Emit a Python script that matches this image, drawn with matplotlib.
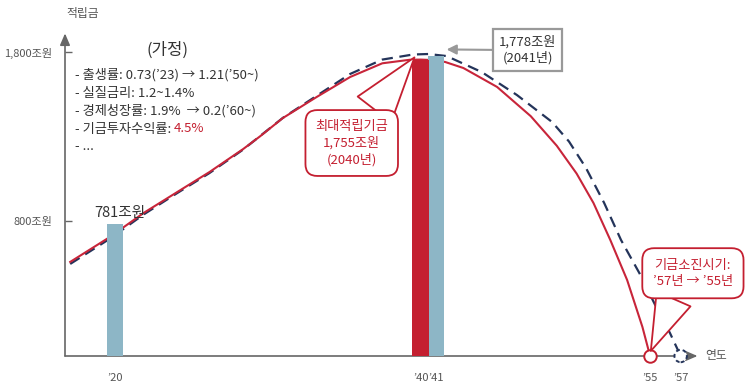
import matplotlib.pyplot as plt

plt.rcParams['font.family'] = ['Noto Sans CJK KR', 'DejaVu Sans']

# 기금 적립금 (조원) - 개혁안(실선) / 기존 전망(점선)
red_years = [2017.1, 2019.7, 2021.9, 2024.1, 2026.2, 2028.4, 2029.5, 2031.0,
             2033.2, 2035.4, 2037.5, 2039.3, 2040.0, 2040.8, 2041.6, 2042.8,
             2045.0, 2047.2, 2048.9, 2050.2, 2051.3, 2052.4, 2053.5, 2054.5,
             2055.0]
red_fund = [557, 705, 847, 971, 1089, 1225, 1300, 1409,
            1533, 1652, 1733, 1754, 1755, 1752, 1741, 1705,
            1593, 1420, 1245, 1080, 906, 687, 450, 172,
            0]

base_years = [2017.1, 2019.7, 2021.9, 2024.1, 2026.2, 2028.4, 2031.0, 2033.2,
              2035.4, 2037.5, 2039.5, 2040.5, 2041.7, 2044.0, 2046.3, 2048.6,
              2049.7, 2050.8, 2052.0, 2053.1, 2054.3, 2055.4, 2056.3, 2057.0]
base_fund = [545, 695, 838, 965, 1083, 1222, 1410, 1540,
             1670, 1755, 1785, 1788, 1776, 1681, 1545, 1385,
             1270, 1115, 906, 687, 491, 290, 136, 0]

bar_years_blue = [2020, 2041]
bar_vals_blue = [781, 1778]
bar_year_red = 2040
bar_val_red = 1755

ytick_vals = [800, 1800]
ytick_labels = ['800조원', '1,800조원']
xtick_vals = [2020, 2040, 2041, 2055, 2057]
xtick_labels = ['’20', '’40', '’41', '’55', '’57']

assumptions = ['- 출생률: 0.73(’23) → 1.21(’50~)',
               '- 실질금리: 1.2~1.4%',
               '- 경제성장률: 1.9%  → 0.2(’60~)',
               '- 기금투자수익률:',
               '- ...']

RED = '#c41f30'
RED_LINE = '#c8253a'
BLUE = '#8db6c6'
NAVY = '#24345a'
GRAY = '#666666'
TXT = '#333333'

W, H = 748, 384
fig = plt.figure(figsize=(W / 100, H / 100), dpi=100)
ax = fig.add_axes([65 / W, 1 - 356 / H, 683 / W, 336 / H])
x0 = 2016.76
ax.set_xlim(x0, x0 + 683 / 15.3)
ax.set_ylim(0, 336 / 0.1689)
for s in ax.spines.values():
    s.set_visible(False)

# axes with arrows
arr = dict(arrowstyle='-|>,head_length=0.7,head_width=0.3', color=GRAY, lw=1.2,
           shrinkA=0, shrinkB=0)
ax.annotate('', xy=(2058.1, 0), xytext=(x0, 0), arrowprops=arr, annotation_clip=False)
ax.annotate('', xy=(x0, 1910), xytext=(x0, 0), arrowprops=arr, annotation_clip=False)

ax.set_yticks(ytick_vals, ytick_labels)
ax.tick_params(axis='y', direction='in', length=5, width=1, color=GRAY, pad=9,
               labelsize=8, labelcolor='#555555')
ax.set_xticks(xtick_vals, xtick_labels)
ax.tick_params(axis='x', length=0, pad=12, labelsize=8, labelcolor='#555555')

# lines
ax.plot(base_years, base_fund, color=NAVY, lw=1.6, ls=(0, (5, 3)), zorder=2)
ax.plot(red_years, red_fund, color=RED_LINE, lw=1.5, zorder=2.5)

# bars
ax.bar(bar_years_blue, bar_vals_blue, width=1.05, color=BLUE, zorder=3)
ax.bar([bar_year_red], [bar_val_red], width=1.1, color=RED, zorder=3)

ax.annotate('781조원', xy=(bar_years_blue[0], bar_vals_blue[0]), xytext=(4, 3),
            textcoords='offset points', ha='center', va='bottom', fontsize=10.5,
            color=TXT)

# depletion circles
ax.plot([red_years[-1]], [0], marker='o', ms=9, mfc='white', mec=RED, mew=1.4,
        clip_on=False, zorder=6)
ax.scatter([base_years[-1]], [0], s=80, facecolors='white', edgecolors=NAVY,
           linewidths=1.4, linestyles=(0, (2, 1.5)), clip_on=False, zorder=6)

# callouts
ax.annotate('최대적립기금\n1,755조원\n(2040년)', xy=(2039.6, 1768),
            xytext=(2035.5, 1261), ha='center', va='center', fontsize=9.5,
            color=RED, linespacing=1.3, zorder=5,
            bbox=dict(boxstyle='round,pad=0.75,rounding_size=0.9', fc='white',
                      ec=RED, lw=1.3),
            arrowprops=dict(arrowstyle='wedge,tail_width=3.2,shrink_factor=0.5',
                            fc='white', ec=RED, lw=1.3, relpos=(0.7, 1),
                            shrinkA=0, shrinkB=0))

ax.annotate('1,778조원\n(2041년)', xy=(2041.7, 1815), xytext=(2047.0, 1812),
            ha='center', va='center', fontsize=9.5, color=TXT, linespacing=1.3,
            zorder=5, annotation_clip=False,
            bbox=dict(boxstyle='square,pad=0.45', fc='white', ec='#999999', lw=1.6),
            arrowprops=dict(arrowstyle='-|>,head_length=0.6,head_width=0.3',
                            color='#999999', lw=1.5, relpos=(0, 0.5),
                            shrinkA=0, shrinkB=0))

ax.annotate('기금소진시기:\n’57년 → ’55년', xy=(2055.05, 30), xytext=(2057.8, 490),
            ha='center', va='center', fontsize=9.5, color=RED, linespacing=1.3,
            zorder=7, annotation_clip=False,
            bbox=dict(boxstyle='round,pad=0.8,rounding_size=0.9', fc='white',
                      ec=RED, lw=1.3),
            arrowprops=dict(arrowstyle='wedge,tail_width=2.8,shrink_factor=0.5',
                            fc='white', ec=RED, lw=1.3, relpos=(0.32, 0),
                            shrinkA=0, shrinkB=0))

ax.text(2058.6, 0, '연도', ha='left', va='center', fontsize=8.5, color='#555555')
fig.text(83 / W, 1 - 14 / H, '적립금', ha='center', va='center', fontsize=8.5,
         color='#555555')

# assumptions
fig.text(168 / W, 1 - 50 / H, '(가정)', ha='center', va='center', fontsize=12,
         color=TXT)
rend = fig.canvas.get_renderer()
for i, line in enumerate(assumptions):
    t = fig.text(75 / W, 1 - (75 + 18 * i) / H, line, ha='left', va='center',
                 fontsize=9.5, color=TXT)
    if i == 3:
        x1 = t.get_window_extent(rend).x1
        fig.text((x1 + 3) / W, 1 - (75 + 18 * i) / H, '4.5%', ha='left',
                 va='center', fontsize=9.5, color=RED)

fig.savefig('out.png', dpi=100)
